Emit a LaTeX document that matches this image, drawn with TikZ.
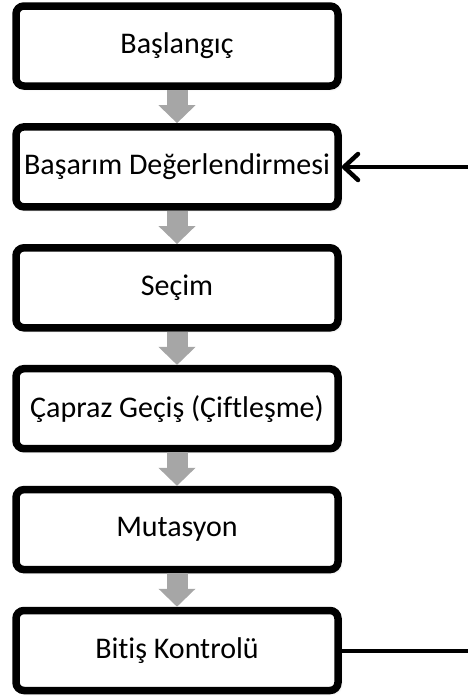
\documentclass[tikz,border=0pt]{standalone}
\usepackage{fontspec}
\setmainfont{Carlito}[Ligatures={NoCommon}]
\usetikzlibrary{arrows.meta,shadows.blur}
\definecolor{flowgray}{RGB}{166,166,166}
\tikzset{
  stepbox/.style={draw=black, line width=7.5pt, rounded corners=8pt, fill=white,
    minimum width=322pt, minimum height=80pt, inner sep=0pt,
    font=\fontsize{30pt}{36pt}\selectfont,
    blur shadow={shadow xshift=2pt, shadow yshift=-2pt, shadow blur radius=3pt, shadow opacity=30}},
  flowarrow/.style={draw=flowgray, line width=21pt,
    -{Triangle[width=36pt, length=18pt]}},
  loopline/.style={draw=black, line width=4.5pt}
}
\begin{document}
\begin{tikzpicture}[x=1pt, y=-1pt]
  \useasboundingbox (0,0) rectangle (468,696);
  % process steps, top to bottom
  \node[stepbox] (s1) at (177,46)    {Başlangıç};
  \node[stepbox] (s2) at (177,166.9) {Başarım Değerlendirmesi};
  \node[stepbox] (s3) at (177,287.8) {Seçim};
  \node[stepbox] (s4) at (177,408.7) {Çapraz Geçiş (Çiftleşme)};
  \node[stepbox] (s5) at (177,529.6) {Mutasyon};
  \node[stepbox] (s6) at (177,650.5) {Bitiş Kontrolü};
  % gray flow arrows between consecutive steps
  \foreach \a/\b in {s1/s2, s2/s3, s3/s4, s4/s5, s5/s6}
    \draw[flowarrow] (\a.south) -- (\b.north);
  % loop back from the end check to the evaluation step
  \coordinate (loopin) at (468,167);
  \coordinate (loopout) at (468,651);
  \draw[loopline, -{Straight Barb[length=14pt, width=26pt, line cap=round, line join=round]}]
    (loopin) -- (s2.east |- loopin);
  \draw[loopline] (s6.east |- loopout) -- (loopout);
\end{tikzpicture}
\end{document}
